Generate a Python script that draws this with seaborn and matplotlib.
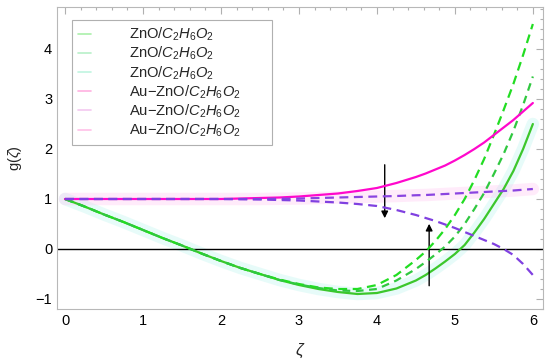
import matplotlib
matplotlib.use("Agg")
import matplotlib.pyplot as plt
import seaborn as sns
from matplotlib.ticker import MultipleLocator

# zeta grid shared by the curves (finer where the curves bend)
zeta = [0, 0.25, 0.5, 0.75, 1, 1.25, 1.5, 1.75, 2, 2.25, 2.5, 2.75, 3, 3.25, 3.5, 3.75,
        4, 4.25, 4.5, 4.625, 4.75, 4.875, 5, 5.125, 5.25, 5.375, 5.5, 5.625, 5.75, 5.875, 6]

# ZnO / C2H6O2 curves (green)
zno_solid = [1, 0.85, 0.69, 0.54, 0.38, 0.22, 0.07, -0.09, -0.24, -0.38, -0.5, -0.62, -0.72, -0.8, -0.86, -0.9,
             -0.88, -0.79, -0.63, -0.52, -0.39, -0.25, -0.1, 0.08, 0.33, 0.6, 0.9, 1.2, 1.56, 2.0, 2.5]
zno_dash_a = [1, 0.85, 0.69, 0.54, 0.38, 0.22, 0.07, -0.09, -0.24, -0.38, -0.5, -0.61, -0.7, -0.77, -0.8, -0.8,
              -0.72, -0.52, -0.22, -0.05, 0.16, 0.4, 0.68, 1.0, 1.38, 1.8, 2.28, 2.78, 3.3, 3.88, 4.5]
zno_dash_b = [1, 0.85, 0.69, 0.54, 0.38, 0.22, 0.07, -0.09, -0.24, -0.38, -0.5, -0.62, -0.71, -0.78, -0.83, -0.84,
              -0.8, -0.63, -0.4, -0.26, -0.11, 0.05, 0.25, 0.5, 0.8, 1.12, 1.5, 1.9, 2.36, 2.88, 3.45]

# Au-ZnO / C2H6O2 curves (magenta / purple)
au_solid = [1, 1, 1, 1, 1, 1, 1, 1, 1.0, 1.01, 1.02, 1.03, 1.05, 1.08, 1.11, 1.16,
            1.22, 1.32, 1.44, 1.51, 1.59, 1.67, 1.77, 1.88, 2.0, 2.13, 2.28, 2.43, 2.58, 2.75, 2.92]
au_dash_a = [1, 1, 1, 1, 1, 1, 1, 1, 1.0, 1.0, 1.0, 1.005, 1.01, 1.02, 1.03, 1.04,
             1.05, 1.06, 1.075, 1.08, 1.09, 1.1, 1.11, 1.12, 1.13, 1.14, 1.15, 1.16, 1.17, 1.185, 1.2]
au_dash_b = [1, 1, 1, 1, 1, 1, 1, 1, 1.0, 0.995, 0.99, 0.98, 0.97, 0.95, 0.93, 0.9,
             0.86, 0.78, 0.68, 0.62, 0.56, 0.49, 0.42, 0.34, 0.26, 0.18, 0.1, 0.0, -0.12, -0.3, -0.52]

zno_label = r"ZnO/$C_2H_6O_2$"
au_label = r"Au$-$ZnO/$C_2H_6O_2$"

series = [
    (zno_solid, zno_label, "#3cc72c", "-", "#aaf0aa"),
    (zno_dash_a, zno_label, "#22dd22", (0, (4, 2.5)), "#b8f0c8"),
    (zno_dash_b, zno_label, "#30c840", (0, (3.5, 2.5)), "#c0f5e0"),
    (au_solid, au_label, "#ff08cc", "-", "#ffb0e0"),
    (au_dash_a, au_label, "#8a44e0", (0, (4, 2.5)), "#f4c8f0"),
    (au_dash_b, au_label, "#8040e0", (0, (4, 2.5)), "#ffc0e8"),
]

sns.set_theme(style="white")
plt.rcParams["font.family"] = ["Liberation Sans", "DejaVu Sans"]
plt.rcParams["mathtext.fontset"] = "custom"
plt.rcParams["mathtext.rm"] = "Liberation Sans"
plt.rcParams["mathtext.it"] = "Liberation Sans:italic"

fig = plt.figure(figsize=(5.5, 3.64), dpi=100)
ax = fig.add_axes([57 / 550, 1 - 309 / 364, 486 / 550, 302 / 364])

# faint halo under the curves, as in the original raster
sns.lineplot(x=zeta, y=zno_solid, ax=ax, color="#b0f4ec", linewidth=9, alpha=0.3, legend=False)
sns.lineplot(x=zeta, y=au_dash_a, ax=ax, color="#ffc0f0", linewidth=9, alpha=0.3, legend=False)

ax.axhline(0, color="black", linewidth=1.0, zorder=2)

for i, (vals, label, color, ls, _) in enumerate(series):
    sns.lineplot(x=zeta, y=vals, ax=ax, color=color, linewidth=1.6,
                 linestyle=ls, label=label, zorder=3 + i)

# direction arrows
ax.annotate("", xy=(4.1, 0.56), xytext=(4.1, 1.74),
            arrowprops=dict(arrowstyle="-|>", color="black", lw=1.0, mutation_scale=10))
ax.annotate("", xy=(4.67, 0.56), xytext=(4.67, -0.79),
            arrowprops=dict(arrowstyle="-|>", color="black", lw=1.0, mutation_scale=10))

ax.set_xlim(-0.103, 6.13)
ax.set_ylim(-1.2, 4.84)
ax.xaxis.set_major_locator(MultipleLocator(1))
ax.xaxis.set_minor_locator(MultipleLocator(0.2))
ax.yaxis.set_major_locator(MultipleLocator(1))
ax.yaxis.set_minor_locator(MultipleLocator(0.2))
ax.tick_params(which="both", direction="in", top=True, right=True, color="#b0b0b0",
               labelsize=10.5, labelcolor="black", width=0.8)
ax.tick_params(which="major", length=5)
ax.tick_params(which="minor", length=2.5)
for sp in ax.spines.values():
    sp.set_color("#b8b8b8")
    sp.set_linewidth(0.8)

ax.set_xlabel(r"$\zeta$", fontsize=12, labelpad=10)
ax.set_ylabel(r"g($\zeta$)", fontsize=10.5, labelpad=8)

# legend box spans the same width as in the original
leg = ax.legend(loc="upper left", bbox_to_anchor=(0.031, 0.5, 0.4115, 0.457), mode="expand",
                fontsize=10.6, handlelength=0.9, handletextpad=2.6, labelspacing=0.12,
                frameon=True, fancybox=False, framealpha=1, borderpad=0.4,
                borderaxespad=0, edgecolor="#b0b0b0")
leg.get_frame().set_linewidth(0.8)
for h, (_, _, _, _, halo) in zip(leg.get_lines(), series):
    h.set_color(halo)
    h.set_linestyle("-")
    h.set_linewidth(1.2)

fig.savefig("out.png", dpi=100)
